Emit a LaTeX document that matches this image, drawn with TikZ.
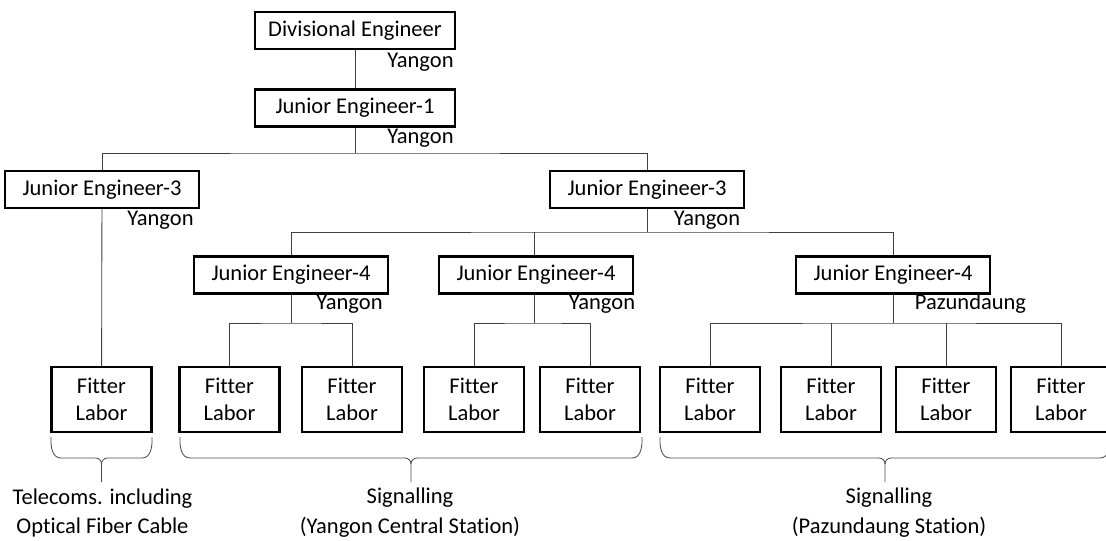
\documentclass[tikz,border=0pt]{standalone}
\usepackage{fontspec}
\setmainfont[Ligatures=NoCommon]{Carlito}
\usepackage{tikz}
\usetikzlibrary{arrows,positioning}
\usetikzlibrary{calc}

\tikzset{
  post/.style={draw=black,line width=1.8pt,inner sep=0pt,minimum width=4.85cm,minimum height=0.925cm,fill=white},
  fitter/.style={draw=black,line width=1.8pt,inner sep=0pt,minimum width=2.5cm,minimum height=1.625cm,align=center,fill=white},
  loc/.style={inner sep=0pt},
  note/.style={inner sep=0pt,align=center,font=\fontsize{16}{21}\selectfont},
  link/.style={draw=black!75,line width=0.6pt},
  brc/.style={draw=black!70,line width=0.6pt}
}

\newcommand{\grpbrace}[2]{
\pgfmathsetmacro{\bmid}{(#1+#2)/2}
\draw[brc] (#1,-10.925) to[out=-93,in=180] ({#1+0.25},-11.45) -- ({\bmid-0.15},-11.45) to[out=0,in=90] (\bmid,-11.6) -- (\bmid,-12.05);
\draw[brc] (\bmid,-11.6) to[out=90,in=180] ({\bmid+0.15},-11.45) -- ({#2-0.25},-11.45) to[out=0,in=-87] (#2,-10.925);
}

\begin{document}
\begin{tikzpicture}[font=\fontsize{16}{19.6}\selectfont]
\useasboundingbox (0,0) rectangle (27.65,-13.5);

% bus points
\coordinate (b1) at (8.875,-3.825);
\coordinate (b2) at (16.175,-5.8);
\coordinate (b4a) at (7.275,-8.075);
\coordinate (b4b) at (13.35,-8.075);
\coordinate (b4c) at (22.325,-8.075);

% lines first, boxes cover them
\draw[link] (8.875,-0.7625) -- (8.875,-2.7);
\draw[link] (8.875,-2.7) -- (b1);
\draw[link] (2.55,-4.7375) |- (b1) -| (16.175,-4.7375);
\draw[link] (16.175,-4.7375) -- (b2);
\draw[link] (7.275,-6.875) |- (b2) -| (22.325,-6.875);
\draw[link] (13.35,-6.875) -- (13.35,-5.8);
\draw[link] (2.55,-4.7375) -- (2.5375,-9.9875);
\draw[link] (7.275,-6.875) -- (b4a);
\draw[link] (5.7375,-9.9875) |- (b4a) -| (8.8,-9.9875);
\draw[link] (13.35,-6.875) -- (b4b);
\draw[link] (11.85,-9.9875) |- (b4b) -| (14.75,-9.9875);
\draw[link] (22.325,-6.875) -- (b4c);
\draw[link] (17.75,-9.9875) |- (b4c) -| (26.525,-9.9875);
\draw[link] (20.775,-9.9875) -- (20.775,-8.075);
\draw[link] (23.65,-9.9875) -- (23.65,-8.075);

% posts
\node[post,minimum width=5cm] (de) at (8.875,-0.7625) {Divisional Engineer};
\node[post,minimum width=5cm] (je1) at (8.875,-2.7) {Junior Engineer-1};
\node[post] (je3l) at (2.55,-4.7375) {Junior Engineer-3};
\node[post] (je3r) at (16.175,-4.7375) {Junior Engineer-3};
\node[post] (je4a) at (7.275,-6.875) {Junior Engineer-4};
\node[post] (je4b) at (13.4,-6.875) {Junior Engineer-4};
\node[post] (je4c) at (22.325,-6.875) {Junior Engineer-4};

% locations
\node[loc] (lde) at (10.5125,-1.55) {Yangon};
\node[loc] (lje1) at (10.5125,-3.45) {Yangon};
\node[loc] (lje3l) at (4.0125,-5.5) {Yangon};
\node[loc] (lje3r) at (17.675,-5.5) {Yangon};
\node[loc] (lje4a) at (8.7375,-7.6) {Yangon};
\node[loc] (lje4b) at (15.05,-7.6) {Yangon};
\node[loc] (lje4c) at (24.2625,-7.6) {Pazundaung};

% fitters
\node[fitter] (f1) at (2.5375,-9.9875) {Fitter\\Labor};
\node[fitter] (f2) at (5.7375,-9.9875) {Fitter\\Labor};
\node[fitter] (f3) at (8.8,-9.9875) {Fitter\\Labor};
\node[fitter] (f4) at (11.85,-9.9875) {Fitter\\Labor};
\node[fitter] (f5) at (14.75,-9.9875) {Fitter\\Labor};
\node[fitter] (f6) at (17.75,-9.9875) {Fitter\\Labor};
\node[fitter] (f7) at (20.775,-9.9875) {Fitter\\Labor};
\node[fitter] (f8) at (23.65,-9.9875) {Fitter\\Labor};
\node[fitter] (f9) at (26.525,-9.9875) {Fitter\\Labor};

% groups
\grpbrace{1.275}{3.8}
\grpbrace{4.5}{16.05}
\grpbrace{16.5}{27.75}
\node[note] (g1) at (2.5625,-12.82) {Telecoms. including\\Optical Fiber Cable};
\node[note] (g2) at (10.25,-12.82) {Signalling\\(Yangon Central Station)};
\node[note] (g3) at (22.225,-12.82) {Signalling\\(Pazundaung Station)};
\end{tikzpicture}
\end{document}
